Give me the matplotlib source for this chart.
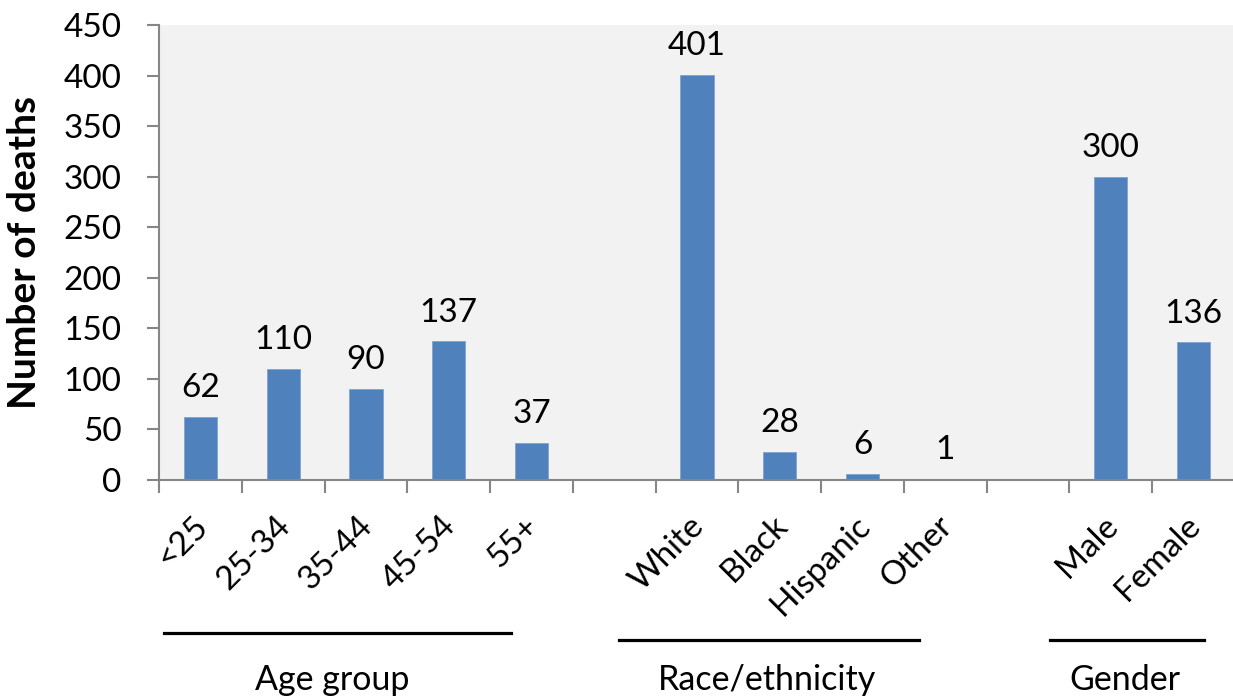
import matplotlib
matplotlib.use("Agg")
import matplotlib.pyplot as plt
import matplotlib.transforms as mtransforms

plt.rcParams['font.family'] = ['Lato', 'DejaVu Sans']

# categories, with empty slots between the three groups
categories = ['<25', '25-34', '35-44', '45-54', '55+', '',
              'White', 'Black', 'Hispanic', 'Other', '',
              'Male', 'Female']
deaths = [62, 110, 90, 137, 37, None,
          401, 28, 6, 1, None,
          300, 136]
groups = ['Age group', 'Race/ethnicity', 'Gender']
yticks = [0, 50, 100, 150, 200, 250, 300, 350, 400, 450]

bar_color = '#4F81BD'
axis_gray = '#868686'

fig = plt.figure(figsize=(12.33, 6.98), dpi=100)
ax = fig.add_axes([0.129, 0.3123, 0.8726, 0.6519])
ax.set_facecolor('#F2F2F2')

xs = [i for i, v in enumerate(deaths) if v is not None]
vals = [v for v in deaths if v is not None]
ax.bar(xs, vals, width=0.4, color=bar_color, edgecolor='#7FA3D1', linewidth=0.6, zorder=2)

for x, v in zip(xs, vals):
    ax.annotate(str(v), (x, v), xytext=(0, 10), textcoords='offset points',
                ha='center', va='bottom', fontsize=24, color='black')

ax.set_xlim(-0.5, len(categories) - 0.5)
ax.set_ylim(0, 450)
ax.set_yticks(yticks)
ax.tick_params(axis='y', labelsize=24, length=9, width=1.5, color=axis_gray, pad=18)

# ticks sit on the slot boundaries, labels on the bar centres
ax.set_xticks([i - 0.5 for i in range(len(categories) + 1)])
ax.set_xticklabels([])
ax.set_xticks(range(len(categories)), minor=True)
ax.set_xticklabels(categories, minor=True, rotation=45, ha='right', va='top',
                   rotation_mode='anchor', fontsize=24)
ax.tick_params(axis='x', which='major', length=9, width=1.5, color=axis_gray)
ax.tick_params(axis='x', which='minor', length=0, pad=22)

# nudge the slanted labels a little to the left
shift = mtransforms.ScaledTranslation(-6 / 72, 0, fig.dpi_scale_trans)
for lbl in ax.get_xticklabels(minor=True):
    lbl.set_transform(lbl.get_transform() + shift)

for side in ['top', 'right']:
    ax.spines[side].set_visible(False)
for side in ['left', 'bottom']:
    ax.spines[side].set_color(axis_gray)
    ax.spines[side].set_linewidth(1.5)

ax.set_ylabel('Number of deaths', fontsize=28, fontweight='bold')
ax.yaxis.set_label_coords(-0.109, 0.5)

# group underlines and captions below the category labels
trans = ax.get_xaxis_transform()
group_lines = [(-0.44, 3.75, -0.336), (5.06, 8.68, -0.352), (10.26, 12.13, -0.352)]
group_centres = [1.59, 6.84, 11.17]
for (x0, x1, y), xc, name in zip(group_lines, group_centres, groups):
    ax.plot([x0, x1], [y, y], color='black', linewidth=2.3, transform=trans, clip_on=False)
    ax.text(xc, -0.44, name, transform=trans, ha='center', va='center', fontsize=24.5)

fig.savefig('out.png', dpi=100)
